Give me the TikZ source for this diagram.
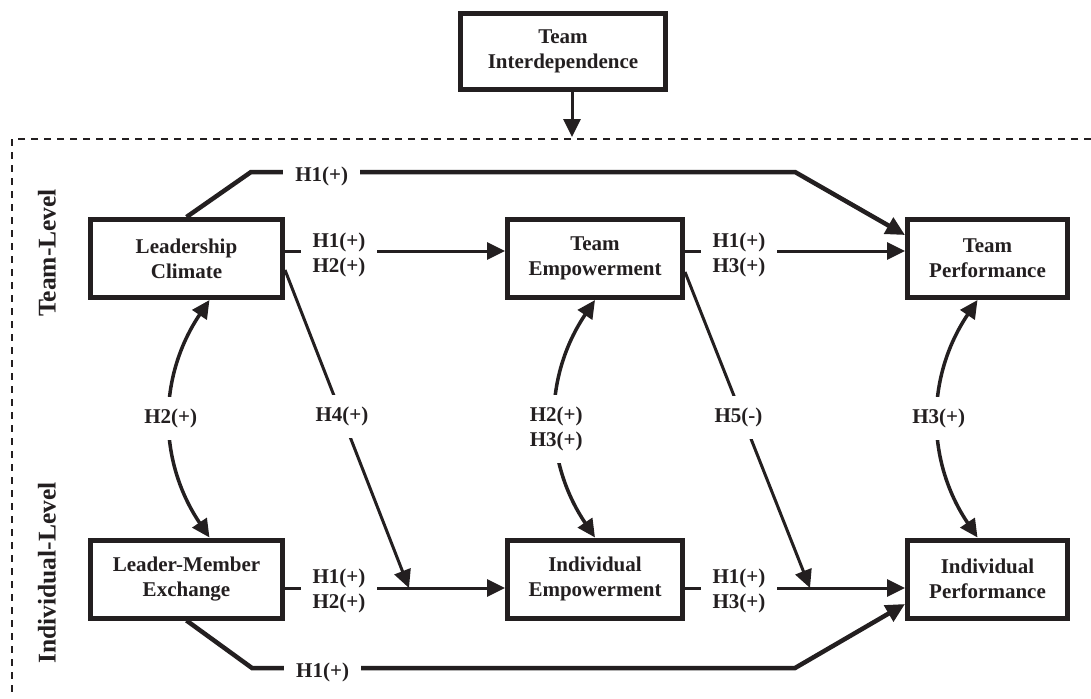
\documentclass[tikz,border=0pt]{standalone}
\usepackage{fontspec}
\setmainfont{Liberation Serif}
\usetikzlibrary{arrows.meta}
\definecolor{ink}{RGB}{35,31,32}
\begin{document}
\begin{tikzpicture}[x=0.5pt, y=-0.5pt,
  varbox/.style={draw=ink, line width=2.5pt, minimum height=39pt, align=center, text=ink, font=\fontsize{10.5}{12.5}\selectfont\bfseries},
  hyp/.style={fill=white, inner sep=6pt, align=center, text=ink, font=\fontsize{10.5}{12.5}\selectfont\bfseries},
  level/.style={rotate=90, text=ink, font=\fontsize{12.75}{15}\selectfont\bfseries},
  arr/.style={draw=ink, line width=1.5pt, -{Triangle[length=9pt,width=8.5pt]}},
  twoway/.style={draw=ink, line width=1.75pt, {Triangle[length=9pt,width=8.5pt]}-{Triangle[length=9pt,width=8.5pt]}},
  direct/.style={draw=ink, line width=2.25pt, -{Triangle[length=9.5pt,width=9pt]}},
  frame/.style={draw=ink, line width=0.75pt, dash pattern=on 3.5pt off 3pt}]
\useasboundingbox (0,0) rectangle (1091,698);
\node[varbox, minimum width=102.5pt, minimum height=38pt] (ti) at (563,51.5) {Team\\Interdependence};
\node[varbox, minimum width=96pt] (lc) at (186.5,258.5) {Leadership\\Climate};
\node[varbox, minimum width=87.5pt] (te) at (595,258.5) {Team\\Empowerment};
\node[varbox, minimum width=80pt] (tp) at (987.5,258.5) {Team\\Performance};
\node[varbox, minimum width=96pt] (lmx) at (186.5,579) {Leader-Member\\Exchange};
\node[varbox, minimum width=87.5pt] (ie) at (595,579) {Individual\\Empowerment};
\node[varbox, minimum width=80pt] (ip) at (987.5,579) {Individual\\Performance};
\node[level] (teamlvl) at (47,253) {Team-Level};
\node[level] (indivlvl) at (47,573) {Individual-Level};
\coordinate (tiend) at (572,137);
\coordinate (h4end) at (409,588);
\coordinate (h5end) at (810,588);
\coordinate (topa) at (251,172);
\coordinate (topb) at (795,172);
\coordinate (bota) at (252,668);
\coordinate (botb) at (795,668);
\draw[frame] (1091,139) -- (12,139) -- (12,698);
\draw[arr] ([xshift=4.5pt]ti.south) -- (tiend);
\draw[direct] (lc.north) -- (topa) -- node[hyp, pos=0.13, yshift=-2pt] {H1(+)} (topb) -- ([yshift=11.75pt]tp.west);
\draw[arr] ([yshift=3.75pt]lc.east) -- node[hyp, pos=0.245, yshift=-2pt] {H1(+)\\H2(+)} ([yshift=3.75pt]te.west);
\draw[arr] ([yshift=3.75pt]te.east) -- node[hyp, pos=0.245, yshift=-2pt] {H1(+)\\H3(+)} ([yshift=3.75pt]tp.west);
\draw[arr] ([yshift=-4.5pt]lmx.east) -- node[hyp, pos=0.245, yshift=-1.5pt] {H1(+)\\H2(+)} ([yshift=-4.5pt]ie.west);
\draw[arr] ([yshift=-4.5pt]ie.east) -- node[hyp, pos=0.245, yshift=-1.5pt] {H1(+)\\H3(+)} ([yshift=-4.5pt]ip.west);
\draw[arr] ([yshift=-5.75pt]lc.east) -- node[hyp, pos=0.46] {H4(+)} (h4end);
\draw[arr] ([yshift=-6.75pt]te.east) -- node[hyp, pos=0.46, xshift=-2pt] {H5(-)} (h5end);
\draw[twoway] ([xshift=11.5pt]lc.south) to[bend right=34] node[hyp] {H2(+)} ([xshift=11.5pt]lmx.north);
\draw[twoway] (te.south) to[bend right=34] node[hyp, yshift=-5pt] {H2(+)\\H3(+)} (ie.north);
\draw[twoway] ([xshift=-5pt]tp.south) to[bend right=34] node[hyp] {H3(+)} ([xshift=-5pt]ip.north);
\draw[direct] (lmx.south) -- (bota) -- node[hyp, pos=0.13, yshift=-2pt] {H1(+)} (botb) -- ([yshift=-12.5pt]ip.west);

\end{tikzpicture}
\end{document}
